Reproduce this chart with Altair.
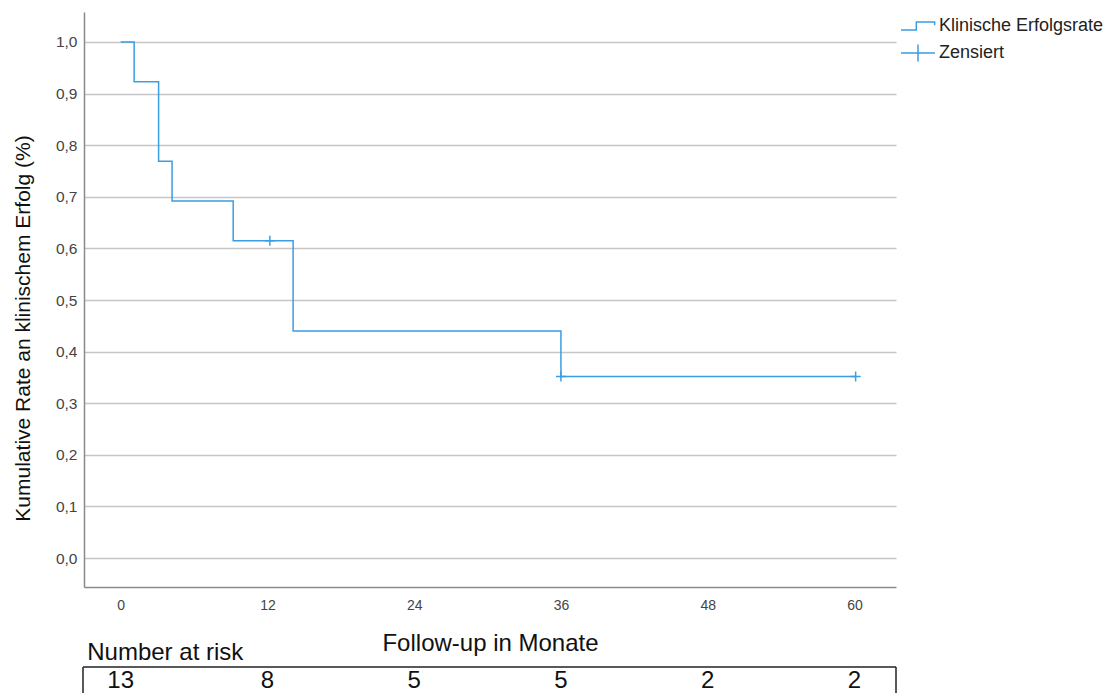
import altair as alt
import pandas as pd

# ---------------- data ----------------
km_times = [0, 1.1, 3.1, 4.2, 9.2, 14.1, 36.0, 60.1]
km_surv = [1.0, 0.923, 0.769, 0.692, 0.615, 0.440, 0.352, 0.352]
censor_times = [12.2, 36.0, 60.1]
censor_surv = [0.615, 0.352, 0.352]
risk_times = [0, 12, 24, 36, 48, 60]
risk_counts = [13, 8, 5, 5, 2, 2]
legend_labels = ["Klinische Erfolgsrate", "Zensiert"]
x_ticks = [0, 12, 24, 36, 48, 60]
y_ticks = [0.0, 0.1, 0.2, 0.3, 0.4, 0.5, 0.6, 0.7, 0.8, 0.9, 1.0]

BLUE = "#3b9de4"
FONT = "Liberation Sans"
W, H = 812, 575

STEP_PATH = "M-1,0.24H-0.1V-0.24H0.98V-0.04"
PLUS_PATH = "M-1,0H1M0,-0.5V0.5"
CENSOR_PATH = "M-1,0H1M0,-1V1"

xscale = alt.Scale(domain=[-3.0, 63.4], nice=False, zero=False)
yscale = alt.Scale(domain=[-0.056, 1.058], nice=False, zero=False)

km = pd.DataFrame({"t": km_times, "s": km_surv})
cens = pd.DataFrame({"t": censor_times, "s": censor_surv})
leg = pd.DataFrame({"label": legend_labels})
risk = pd.DataFrame({"t": risk_times, "n": risk_counts})
one = pd.DataFrame({"k": [0]})

line = alt.Chart(km).mark_line(interpolate="step-after", color=BLUE, strokeWidth=1.5).encode(
    x=alt.X("t:Q", scale=xscale,
            axis=alt.Axis(values=x_ticks, title=None, grid=False, ticks=False, labelPadding=11,
                          labelFontSize=14, labelColor="#444", labelFont=FONT,
                          domainColor="#8a8a8a", domainWidth=1.5)),
    y=alt.Y("s:Q", scale=yscale,
            axis=alt.Axis(values=y_ticks, title="Kumulative Rate an klinischem Erfolg (%)",
                          labelExpr="replace(format(datum.value, '.1f'), '.', ',')",
                          ticks=False, grid=True, gridColor="#c6c6c6", gridWidth=1.5,
                          domainColor="#8a8a8a", domainWidth=1.5, labelPadding=7,
                          labelFontSize=15.5, labelColor="#444", labelFont=FONT,
                          titleFontSize=21, titleFont=FONT, titleFontWeight="normal",
                          titleColor="#111", titlePadding=22, titleY=316)),
)

censor = alt.Chart(cens).mark_point(shape=CENSOR_PATH, size=100, filled=False, color=BLUE,
                                    strokeWidth=1.5, opacity=1).encode(
    x=alt.X("t:Q", scale=xscale),
    y=alt.Y("s:Q", scale=yscale),
)

legend_layer = alt.Chart(leg).transform_filter("false").mark_point(
    filled=False, color=BLUE, strokeWidth=1.5, opacity=1).encode(
    shape=alt.Shape("label:N",
                    scale=alt.Scale(domain=legend_labels, range=[STEP_PATH, PLUS_PATH]),
                    legend=alt.Legend(title=None, orient="none", legendX=816, legendY=-4,
                                      symbolSize=1156, symbolStrokeColor=BLUE,
                                      symbolStrokeWidth=1.5, symbolFillColor="transparent",
                                      labelFontSize=18, labelFont=FONT, labelColor="#222",
                                      labelOffset=3, rowPadding=-17, labelLimit=400)),
)

top = alt.layer(line, censor, legend_layer).properties(width=W, height=H)

nums = alt.Chart(risk).mark_text(fontSize=24, font=FONT, color="#111", baseline="bottom").encode(
    x=alt.X("t:Q", scale=xscale,
            axis=alt.Axis(orient="top", title="Follow-up in Monate", labels=False, ticks=False,
                          domain=False, grid=False, titleFontSize=24, titleFont=FONT,
                          titleFontWeight="normal", titleColor="#111", titlePadding=12)),
    y=alt.value(26),
    text="n:Q",
)
box_top = alt.Chart(one).mark_rule(color="#222", strokeWidth=1.5).encode(
    x=alt.value(-1), x2=alt.value(W), y=alt.value(0))
box_left = alt.Chart(one).mark_rule(color="#222", strokeWidth=1.5).encode(
    x=alt.value(-1), y=alt.value(0), y2=alt.value(40))
box_right = alt.Chart(one).mark_rule(color="#222", strokeWidth=1.5).encode(
    x=alt.value(W), y=alt.value(0), y2=alt.value(40))

bottom = alt.layer(nums, box_top, box_left, box_right).properties(
    width=W, height=26,
    title=alt.TitleParams("Number at risk", anchor="start", fontSize=24, font=FONT,
                          fontWeight="normal", color="#111", offset=-34, dx=5),
)

chart = alt.vconcat(top, bottom, spacing=80, bounds="flush").properties(
    padding={"left": 11, "top": 8, "right": 4, "bottom": 0}
).configure_view(stroke="transparent")

chart.save("out.html", embed_options={"renderer": "svg", "actions": False})
